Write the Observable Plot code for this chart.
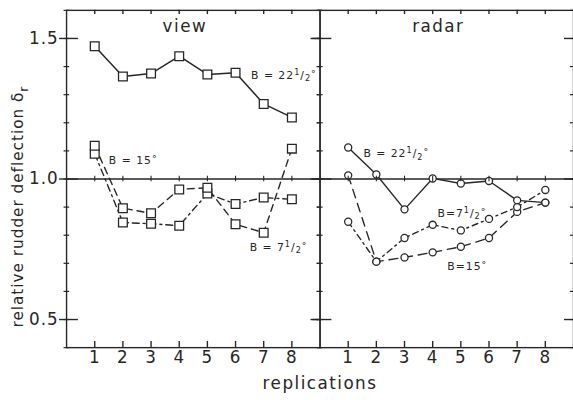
<!DOCTYPE html>
<html><head><meta charset="utf-8">
<script src="https://cdn.jsdelivr.net/npm/d3@7"></script>
<script src="https://cdn.jsdelivr.net/npm/@observablehq/plot@0.6"></script>
<style>
html,body{margin:0;padding:0;background:#fff;overflow:hidden;}
#chart svg{display:block;}
#chart text{letter-spacing:1px;}
</style>
</head><body><div id="chart"></div>
<script>
// ---- data ----
const replications = [1, 2, 3, 4, 5, 6, 7, 8];
const panels = ["view", "radar"];
const viewB22 = [1.472, 1.365, 1.375, 1.437, 1.372, 1.378, 1.267, 1.219];
const viewB15 = [1.090, 0.845, 0.841, 0.834, 0.948, 0.911, 0.934, 0.928];
const viewB7 = [1.118, 0.896, 0.878, 0.963, 0.969, 0.839, 0.809, 1.108];
const radarB22 = [1.112, 1.016, 0.892, 1.002, 0.984, 0.993, 0.924, 0.916];
const radarB15 = [1.013, 0.706, 0.721, 0.739, 0.759, 0.790, 0.883, 0.916];
const radarB7 = [0.848, 0.706, 0.790, 0.837, 0.817, 0.858, 0.900, 0.961];
const yTicks = [0.5, 1.0, 1.5];
const yMinorTicks = d3.range(4, 17).map(d => d / 10);
const xTicks = replications;
const xLabel = "replications";
const yLabel = "relative rudder deflection δr";
const annotations = [
  {panel: "view", x: 6.55, y: 1.368, text: "B = 22½°"},
  {panel: "view", x: 1.5, y: 1.066, text: "B = 15°"},
  {panel: "view", x: 6.5, y: 0.757, text: "B = 7½°"},
  {panel: "radar", x: 1.54, y: 1.09, text: "B = 22½°"},
  {panel: "radar", x: 4.17, y: 0.878, text: "B=7½°"},
  {panel: "radar", x: 4.52, y: 0.6875, text: "B=15°"}
];

// ---- table ----
const seriesTable = [
  ["view", "22.5", viewB22], ["view", "15", viewB15], ["view", "7.5", viewB7],
  ["radar", "22.5", radarB22], ["radar", "15", radarB15], ["radar", "7.5", radarB7]
];
const data = [];
for (const [panel, series, values] of seriesTable)
  values.forEach((v, i) => data.push({panel, series, rep: replications[i], value: v}));
const pick = (p, s) => data.filter(d => d.panel === p && d.series === s);

const xDomain = [0, 9];
const yDomain = [0.4, 1.6];
const [x0, x1] = xDomain, [y0, y1] = yDomain;
const ink = "#262626";
const line = (p, s, dash, w = 1.4) =>
  Plot.line(pick(p, s), {x: "rep", y: "value", fx: "panel", stroke: ink, strokeWidth: w, strokeDasharray: dash});
// short tick rules on the frame of each panel, lengths expressed in axis units
const tickRows = (ticks, a, b) => panels.flatMap(panel => ticks.map(v => ({panel, v, a, b})));
const yTickRule = (ticks, a, b, w = 1.4) =>
  Plot.ruleY(tickRows(ticks, a, b), {fx: "panel", y: "v", x1: "a", x2: "b", stroke: ink, strokeWidth: w});
const xTickRule = (ticks, a, b, w = 1.4) =>
  Plot.ruleX(tickRows(ticks, a, b), {fx: "panel", x: "v", y1: "a", y2: "b", stroke: ink, strokeWidth: w});

const chart = Plot.plot({
  width: 581, height: 400,
  marginLeft: 67, marginRight: 0, marginTop: 10, marginBottom: 48,
  fx: {domain: panels, padding: 0, axis: null, label: null},
  x: {domain: xDomain},
  y: {domain: yDomain},
  style: {fontFamily: "DejaVu Sans", fontSize: "17px"},
  marks: [
    Plot.frame({stroke: ink, strokeWidth: 1.4}),
    Plot.ruleY([1], {stroke: ink, strokeWidth: 1.3}),
    // axis labels
    Plot.axisX({ticks: xTicks, anchor: "bottom", tickSize: 0, tickPadding: 3, label: null, tickFormat: d => d, fill: ink}),
    Plot.axisY({ticks: yTicks, tickSize: 0, tickPadding: 8, tickFormat: d3.format(".1f"), label: null, fill: ink}),
    // series lines
    line("view", "22.5", null, 1.5),
    line("view", "7.5", "7,5"),
    line("view", "15", "7,4,2,4"),
    line("radar", "22.5", null, 1.4),
    line("radar", "15", "9,6"),
    line("radar", "7.5", "6,4,2,4"),
    // markers
    Plot.dot(data.filter(d => d.panel === "view"), {x: "rep", y: "value", fx: "panel", symbol: "square", r: 5, fill: "#fff", stroke: ink, strokeWidth: 1.3}),
    Plot.dot(data.filter(d => d.panel === "radar"), {x: "rep", y: "value", fx: "panel", symbol: "circle", r: 3.6, fill: "#fff", stroke: ink, strokeWidth: 1.3}),
    // annotations
    Plot.text(annotations, {x: "x", y: "y", fx: "panel", text: "text", textAnchor: "start", lineAnchor: "middle", fontSize: 11, fill: ink}),
    // panel titles
    Plot.text(panels, {fx: d => d, text: d => d, x: () => 4.2, frameAnchor: "top", dy: 17, lineAnchor: "middle", fontSize: 17, fill: ink}),
    // axis titles
    Plot.text([xLabel], {fx: () => "view", text: d => d, frameAnchor: "bottom-right", dy: 36, lineAnchor: "middle", textAnchor: "middle", fontSize: 17, fill: ink}),
    Plot.text([yLabel], {fx: () => "view", text: d => d, frameAnchor: "left", dx: -49, dy: 28, rotate: -90, textAnchor: "middle", lineAnchor: "middle", fontSize: 15.5, fill: ink}),
    // frame ticks drawn last
    xTickRule(xTicks, 0.99, 1.01, 1.1),
    xTickRule(xTicks, y0, y0 + 0.022),
    xTickRule(xTicks, y1, y1 - 0.015),
    yTickRule(yTicks, x0 - 0.25, x0 + 0.42),
    yTickRule(yTicks, x1 - 0.32, x1),
    yTickRule(yMinorTicks, x0 - 0.09, x0 + 0.11, 1.2),
    yTickRule(yMinorTicks, x1 - 0.11, x1, 1.2)
  ]
});
document.getElementById("chart").appendChild(chart);
chart.querySelectorAll("text").forEach(t => {
  const fs = t.getAttribute("font-size") || (t.parentNode && t.parentNode.getAttribute && t.parentNode.getAttribute("font-size"));
  if (fs === "17" || fs === "17px") t.style.letterSpacing = "1.5px";
});

// typeset fractions, degrees and subscripts as tspans
const NS = "http://www.w3.org/2000/svg";
chart.querySelectorAll("text").forEach(t => {
  if (t.querySelector("tspan")) return;
  const s = t.textContent;
  if (!/[½°]|δr/.test(s)) return;
  const fs = parseFloat(getComputedStyle(t).fontSize) || 11;
  const segs = [];
  let buf = "";
  const flush = () => { if (buf) { segs.push({t: buf, off: 0}); buf = ""; } };
  for (let i = 0; i < s.length; i++) {
    const c = s[i];
    if (c === "½") {
      flush();
      segs.push({t: "1", off: -0.38, size: 0.75});
      segs.push({t: "/", off: 0, size: 1});
      segs.push({t: "2", off: 0.22, size: 0.75});
    } else if (c === "°") {
      flush();
      segs.push({t: "°", off: -0.2, size: 0.85});
    } else if (c === "δ" && s[i + 1] === "r") {
      buf += "δ"; flush();
      segs.push({t: "r", off: 0.3, size: 0.8});
      i++;
    } else buf += c;
  }
  flush();
  t.textContent = "";
  let cur = 0;
  for (const g of segs) {
    const ts = document.createElementNS(NS, "tspan");
    ts.setAttribute("dy", ((g.off - cur) * fs).toFixed(2) + "px");
    if (g.size && g.size !== 1) ts.setAttribute("font-size", (g.size * fs).toFixed(2) + "px");
    ts.textContent = g.t;
    t.appendChild(ts);
    cur = g.off;
  }
});
</script>
</body></html>
